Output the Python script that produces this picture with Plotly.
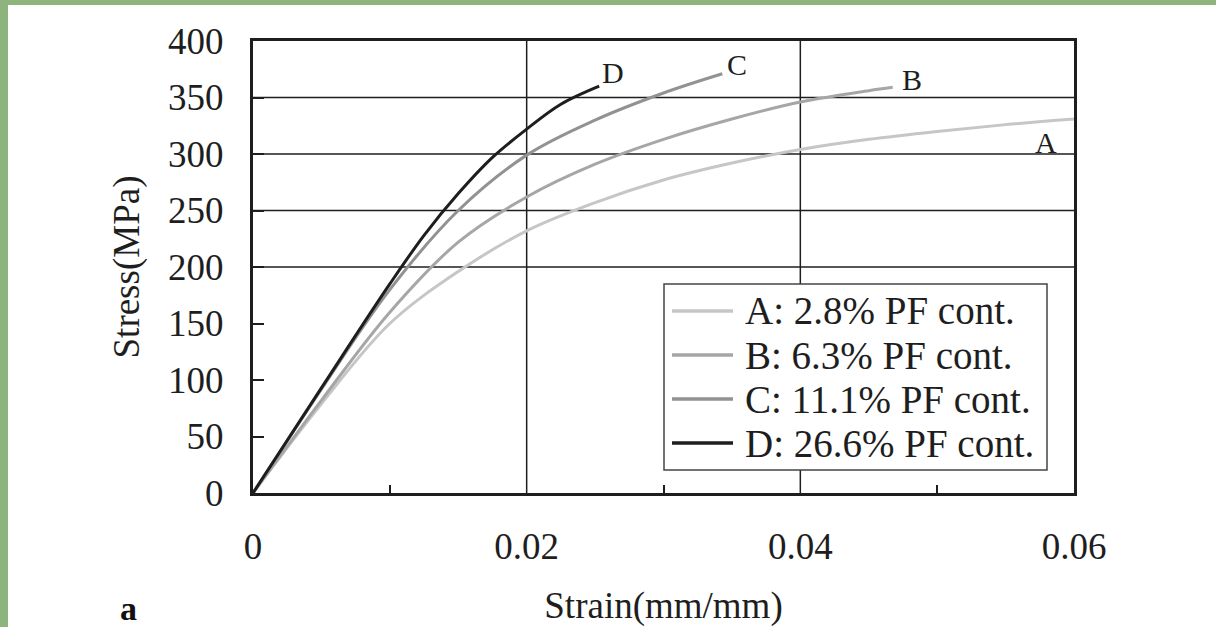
import plotly.graph_objects as go

# ---- data ----
strain_A = [0, 0.005, 0.010, 0.015, 0.020, 0.025, 0.030, 0.035, 0.040, 0.045, 0.050, 0.055, 0.060]
stress_A = [0, 79, 150, 196, 232, 257, 277, 292, 304, 313, 320, 326, 331]

strain_B = [0, 0.005, 0.010, 0.015, 0.020, 0.025, 0.030, 0.035, 0.040, 0.045, 0.04675]
stress_B = [0, 82, 160, 222, 262, 291, 313, 331, 346, 356, 359]

strain_C = [0, 0.005, 0.010, 0.015, 0.020, 0.025, 0.030, 0.0343]
stress_C = [0, 92, 180, 250, 299, 330, 354, 371]

strain_D = [0, 0.005, 0.010, 0.0125, 0.015, 0.0175, 0.020, 0.0225, 0.0253]
stress_D = [0, 93, 185, 228, 265, 297, 322, 344, 360]

series_names = ["A: 2.8% PF cont.", "B: 6.3% PF cont.", "C: 11.1% PF cont.", "D: 26.6% PF cont."]
curve_tags = ["A", "B", "C", "D"]

x_tick_vals = [0, 0.02, 0.04, 0.06]
x_tick_text = ["0", "0.02", "0.04", "0.06"]
x_minor_vals = [0.01, 0.03, 0.05]
y_tick_vals = [0, 50, 100, 150, 200, 250, 300, 350, 400]
y_tick_text = ["0", "50", "100", "150", "200", "250", "300", "350", "400"]
grid_x = [0.02, 0.04]
grid_y = [200, 250, 300, 350]

# ---- style ----
W, H = 1216, 627
ML, MR, MT, MB = 253, 142, 41, 134
PW, PH = W - ML - MR, H - MT - MB
FONT = "Liberation Serif, Times New Roman, serif"
INK = "#1e1e1e"
colors = ["#c6c6c6", "#a6a6a6", "#929292", "#1e1e1e"]


def px_x(p):
    return (p - ML) / PW


def px_y(p):
    return (H - MB - p) / PH


fig = go.Figure()
data = [(strain_A, stress_A), (strain_B, stress_B), (strain_C, stress_C), (strain_D, stress_D)]
for (xs, ys), name, col in zip(data, series_names, colors):
    fig.add_trace(go.Scatter(
        x=xs, y=ys, mode="lines", name=name, showlegend=False,
        line=dict(color=col, width=3, shape="spline", smoothing=1.0),
    ))

shapes = []
for gx in grid_x:
    shapes.append(dict(type="line", xref="x", yref="paper", x0=gx, x1=gx, y0=0, y1=1,
                       line=dict(color=INK, width=1.5), layer="below"))
for gy in grid_y:
    shapes.append(dict(type="line", xref="paper", yref="y", x0=0, x1=1, y0=gy, y1=gy,
                       line=dict(color=INK, width=1.5), layer="below"))

# legend box (white, bordered) built from the series names and colours
LEG_L, LEG_R, LEG_T, LEG_B = 664, 1047, 284, 470
ROW0, ROW_STEP = 311, 44
SAMPLE_L, SAMPLE_R, TEXT_L = 672, 733, 743
shapes.append(dict(type="rect", xref="paper", yref="paper",
                   x0=px_x(LEG_L), x1=px_x(LEG_R), y0=px_y(LEG_B), y1=px_y(LEG_T),
                   fillcolor="white", line=dict(color="#444", width=1.5), layer="above"))
annotations = []
for i, (name, col) in enumerate(zip(series_names, colors)):
    yy = px_y(ROW0 + i * ROW_STEP)
    shapes.append(dict(type="line", xref="paper", yref="paper", x0=px_x(SAMPLE_L), x1=px_x(SAMPLE_R),
                       y0=yy, y1=yy, line=dict(color=col, width=3.5), layer="above"))
    annotations.append(dict(x=px_x(TEXT_L), y=yy, xref="paper", yref="paper", text=name,
                            showarrow=False, xanchor="left", yanchor="middle",
                            font=dict(family=FONT, size=39, color=INK)))

# green page border strips
green = "#8eb47e"
shapes.append(dict(type="rect", xref="paper", yref="paper", x0=px_x(0), x1=px_x(8), y0=px_y(H), y1=px_y(0),
                   fillcolor=green, line=dict(width=0), layer="above"))
shapes.append(dict(type="rect", xref="paper", yref="paper", x0=px_x(0), x1=px_x(W), y0=px_y(5), y1=px_y(0),
                   fillcolor=green, line=dict(width=0), layer="above"))

# curve end labels, offset from the last point of each series
offsets = [(-28, -24), (19, 8), (15, 9), (14, 14)]
for (xs, ys), tag, (dx, dy) in zip(data, curve_tags, offsets):
    annotations.append(dict(x=xs[-1], y=ys[-1], xref="x", yref="y", text=tag, showarrow=False,
                            xshift=dx, yshift=dy, font=dict(family=FONT, size=30, color=INK)))
annotations.append(dict(x=px_x(118), y=px_y(629), xref="paper", yref="paper", text="<b>a</b>",
                        showarrow=False, font=dict(family=FONT, size=34, color="#111")))

fig.update_layout(
    width=W, height=H,
    margin=dict(l=ML, r=MR, t=MT, b=MB, pad=0, autoexpand=False),
    paper_bgcolor="white", plot_bgcolor="white",
    font=dict(family=FONT, size=37, color=INK),
    showlegend=False,
    shapes=shapes, annotations=annotations,
    xaxis=dict(range=[0, 0.06], tickvals=x_tick_vals, ticktext=x_tick_text, automargin=False,
               showgrid=False, zeroline=False, ticks="", showline=True, linecolor=INK, linewidth=3,
               mirror=True, ticklabelstandoff=19,
               minor=dict(tickvals=x_minor_vals, ticks="inside", ticklen=8, tickwidth=1.5, tickcolor=INK,
                          showgrid=False),
               title=dict(text="Strain(mm/mm)", standoff=30, font=dict(family=FONT, size=37)),
               tickfont=dict(family=FONT, size=37)),
    yaxis=dict(range=[0, 400], tickvals=y_tick_vals, ticktext=y_tick_text, automargin=False,
               showgrid=False, zeroline=False, ticks="inside", ticklen=11, tickwidth=1.5, tickcolor=INK,
               showline=True, linecolor=INK, linewidth=3, mirror=True, ticklabelstandoff=19,
               title=dict(text="Stress(MPa)", standoff=18, font=dict(family=FONT, size=37)),
               tickfont=dict(family=FONT, size=37)),
)

fig.write_html("out.html")
